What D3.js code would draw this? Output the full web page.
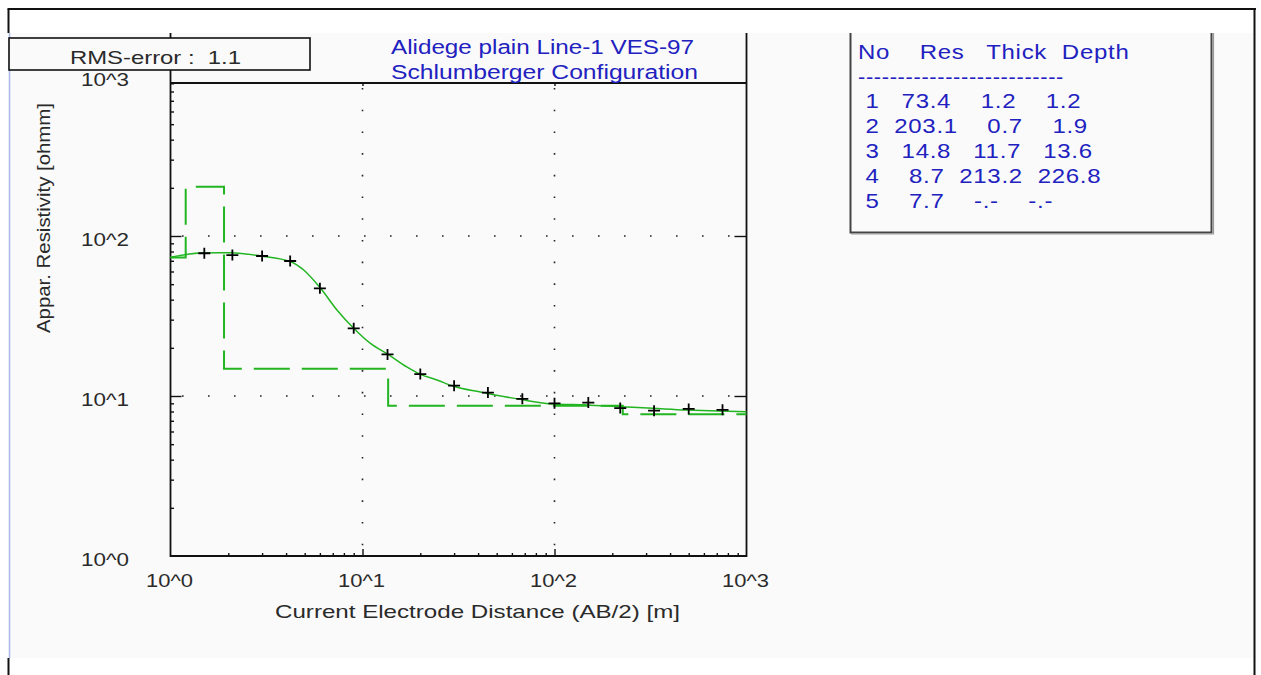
<!DOCTYPE html>
<html>
<head>
<meta charset="utf-8">
<script src="https://cdn.jsdelivr.net/npm/d3@7"></script>
<style>
  html, body { margin: 0; padding: 0; background: #ffffff; }
  svg { display: block; font-family: "Liberation Sans", Arial, sans-serif; }
  text.pre { white-space: pre; }
</style>
</head>
<body>
<svg id="chart" width="1261" height="675"></svg>
<script>
// ---- Field sounding: half electrode spacing AB/2 [m] and apparent resistivity [ohm-m]
const spacing     = [1.5, 2.1, 3, 4.2, 6, 9, 13.5, 20, 30, 45, 68, 100, 150, 220, 330, 500, 750];
const apparentRes = [78.0, 76.0, 75.0, 69.8, 47.1, 26.5, 18.2, 13.7, 11.6, 10.5, 9.6, 9.0, 9.1, 8.4, 8.1, 8.3, 8.2];

// ---- Calculated response of the fitted layer model
const modelSpacing = [1.0, 1.44, 2.06, 2.95, 4.23, 4.94, 6.05, 7.36, 9.0, 11.0, 13.6, 17.0, 19.9, 24.4, 29.7, 41.1, 66.2, 98.2, 147, 218, 325, 486, 721, 1000];
const modelRes     = [73.6, 78.3, 78.6, 75.0, 69.1, 61.3, 47.1, 34.5, 26.5, 21.3, 18.2, 15.2, 13.7, 12.6, 11.5, 10.6, 9.53, 8.91, 8.79, 8.58, 8.38, 8.18, 8.06, 7.98];

// ---- Layer model
const layerNo    = [1, 2, 3, 4, 5];
const layerRes   = [73.4, 203.1, 14.8, 8.7, 7.7];
const layerThick = [1.2, 0.7, 11.7, 213.2, null];
const layerDepth = [1.2, 1.9, 13.6, 226.8, null];

// ---- Axes
const xTicks = [1, 10, 100, 1000];
const xTickLabels = ["10^0", "10^1", "10^2", "10^3"];
const yTicks = [1, 10, 100, 1000];
const yTickLabels = ["10^0", "10^1", "10^2", "10^3"];
const gridValues = [10, 100];

const titleLines = ["Alidege plain Line-1 VES-97", "Schlumberger Configuration"];
const rmsError = 1.1;
const xTitle = "Current Electrode Distance (AB/2) [m]";
const yTitle = "Appar. Resistivity [ohmm]";
const tableHeader = "No    Res   Thick  Depth";

// ---------------------------------------------------------------
const svg = d3.select("#chart");
const INK = "#111", TXT = "#2a2a2a", BLUE = "#2121c0", GREEN = "#22b522";

const plot = { left: 170.5, right: 746.5, bottom: 556, panelTop: 33 };
const x = d3.scaleLog().domain([1, 1000]).range([plot.left, plot.right]);
const y = d3.scaleLog().domain([1, 1000]).range([plot.bottom, 76]);
const frameTop = y(1000) + 7;

// window panel and outer frame
svg.append("rect").attr("x", 9).attr("y", 33).attr("width", 1244).attr("height", 625).attr("fill", "#fafafa");
svg.append("line").attr("x1", 9.5).attr("x2", 9.5).attr("y1", 33).attr("y2", 658).attr("stroke", "#a9b6e6").attr("stroke-width", 1.5);
const frame = svg.append("g").attr("stroke", INK).attr("fill", "none");
frame.append("line").attr("x1", 7.5).attr("x2", 1256).attr("y1", 9).attr("y2", 9).attr("stroke-width", 2);
frame.append("line").attr("x1", 8.5).attr("x2", 8.5).attr("y1", 9).attr("y2", 33).attr("stroke-width", 2);
frame.append("line").attr("x1", 8.5).attr("x2", 8.5).attr("y1", 658).attr("y2", 675).attr("stroke-width", 2);
frame.append("line").attr("x1", 1254.5).attr("x2", 1254.5).attr("y1", 9).attr("y2", 675).attr("stroke-width", 2);

// dotted grid at the inner decades
const grid = svg.append("g").attr("stroke", "#222").attr("stroke-width", 1.6);
grid.selectAll("line.h").data(gridValues).join("line").attr("class", "h")
  .attr("x1", 182).attr("x2", 736).attr("y1", d => y(d)).attr("y2", d => y(d))
  .attr("stroke-dasharray", "1.6 24.4");
grid.selectAll("line.v").data(gridValues).join("line").attr("class", "v")
  .attr("x1", d => x(d)).attr("x2", d => x(d)).attr("y1", 88).attr("y2", 548)
  .attr("stroke-dasharray", "1.6 20.1");

// minor tick values for each decade
const minor = [];
[1, 10, 100].forEach(dec => { for (let k = 2; k <= 9; k++) minor.push(k * dec); });

function styleAxis(g) {
  g.select(".domain").remove();
  g.selectAll(".tick line").attr("stroke", INK).attr("stroke-width", 1.4);
  g.selectAll(".tick text").remove();
}
svg.append("g").attr("transform", `translate(${plot.left},0)`)
  .call(d3.axisRight(y).tickValues(minor).tickSize(3.5)).call(styleAxis);
svg.append("g").attr("transform", `translate(${plot.left},0)`)
  .call(d3.axisRight(y).tickValues(gridValues).tickSize(11)).call(styleAxis);
svg.append("g").attr("transform", `translate(${plot.right},0)`)
  .call(d3.axisLeft(y).tickValues(gridValues).tickSize(12)).call(styleAxis);
svg.append("g").attr("transform", `translate(0,${plot.bottom})`)
  .call(d3.axisTop(x).tickValues(minor).tickSize(3)).call(styleAxis);
svg.append("g").attr("transform", `translate(0,${plot.bottom})`)
  .call(d3.axisTop(x).tickValues(gridValues).tickSize(7)).call(styleAxis);
svg.append("g").attr("transform", `translate(0,${frameTop})`)
  .call(d3.axisBottom(x).tickValues(gridValues).tickSize(3)).call(styleAxis);

// plot frame
const box = svg.append("g").attr("stroke", INK).attr("stroke-width", 1.8);
box.append("line").attr("x1", plot.left).attr("x2", plot.left).attr("y1", plot.panelTop).attr("y2", plot.bottom + 0.9);
box.append("line").attr("x1", plot.right).attr("x2", plot.right).attr("y1", plot.panelTop).attr("y2", plot.bottom + 0.9);
box.append("line").attr("x1", plot.left).attr("x2", plot.right).attr("y1", frameTop).attr("y2", frameTop);
box.append("line").attr("x1", plot.left).attr("x2", plot.right).attr("y1", plot.bottom).attr("y2", plot.bottom);

// layered model as a dashed step line
const steps = [[1, layerRes[0]]];
layerRes.forEach((r, i) => {
  const dEnd = layerDepth[i] == null ? 1000 : layerDepth[i];
  steps.push([dEnd, r]);
  if (layerDepth[i] != null) steps.push([dEnd, layerRes[i + 1]]);
});
svg.append("path").datum(steps)
  .attr("d", d3.line().x(d => x(d[0])).y(d => y(d[1])))
  .attr("fill", "none").attr("stroke", GREEN).attr("stroke-width", 2)
  .attr("stroke-dasharray", "36 12");

// calculated curve
svg.append("path").datum(modelSpacing.map((s, i) => [s, modelRes[i]]))
  .attr("d", d3.line().x(d => x(d[0])).y(d => y(d[1])).curve(d3.curveMonotoneX))
  .attr("fill", "none").attr("stroke", GREEN).attr("stroke-width", 1.5);

// field data crosses
svg.append("g").selectAll("path").data(spacing.map((s, i) => [s, apparentRes[i]])).join("path")
  .attr("d", d => {
    const px = x(d[0]), py = y(d[1]);
    return `M${px - 6},${py}H${px + 6}M${px},${py - 5.5}V${py + 5.5}`;
  })
  .attr("stroke", "#000").attr("stroke-width", 1.8).attr("fill", "none");

// tick labels
svg.append("g").selectAll("text").data(xTicks).join("text")
  .attr("x", d => x(d) - 1).attr("y", 587)
  .attr("text-anchor", "middle").attr("font-size", 18.5).attr("fill", TXT)
  .attr("textLength", 47).attr("lengthAdjust", "spacingAndGlyphs")
  .text((d, i) => xTickLabels[i]);
svg.append("g").selectAll("text").data(yTicks).join("text")
  .attr("x", 129).attr("y", d => y(d) + 10)
  .attr("text-anchor", "end").attr("font-size", 18.5).attr("fill", TXT)
  .attr("textLength", 48).attr("lengthAdjust", "spacingAndGlyphs")
  .text((d, i) => yTickLabels[i]);

// axis titles
svg.append("text").attr("x", 477.5).attr("y", 618).attr("text-anchor", "middle")
  .attr("font-size", 18.5).attr("fill", TXT)
  .attr("textLength", 405).attr("lengthAdjust", "spacingAndGlyphs").text(xTitle);
svg.append("text").attr("transform", "translate(50,218) rotate(-90)").attr("text-anchor", "middle")
  .attr("font-size", 18).attr("fill", TXT)
  .attr("textLength", 230).attr("lengthAdjust", "spacingAndGlyphs").text(yTitle);

// RMS error box
svg.append("rect").attr("x", 9).attr("y", 38).attr("width", 301).attr("height", 32)
  .attr("fill", "#fafafa").attr("stroke", INK).attr("stroke-width", 1.6);
svg.append("text").attr("class", "pre").attr("xml:space", "preserve")
  .attr("x", 70).attr("y", 64).attr("font-size", 19).attr("fill", TXT)
  .attr("textLength", 171).attr("lengthAdjust", "spacingAndGlyphs")
  .text(`RMS-error :  ${rmsError.toFixed(1)}`);

// sounding title
svg.append("g").selectAll("text").data(titleLines).join("text")
  .attr("x", 391).attr("y", (d, i) => 54 + i * 25)
  .attr("font-size", 19.5).attr("fill", BLUE)
  .attr("textLength", (d, i) => i === 0 ? 303 : 307).attr("lengthAdjust", "spacingAndGlyphs")
  .text(d => d);

// layer table
const tbl = svg.append("g");
tbl.append("path").attr("d", "M850.5,33V232.5H1211.5V33")
  .attr("fill", "none").attr("stroke", "#444").attr("stroke-width", 2);
tbl.append("path").attr("d", "M851,234H1213.5V33")
  .attr("fill", "none").attr("stroke", "#9a9a9a").attr("stroke-width", 1.2);

const fmt = v => v == null ? "-.-" : v.toFixed(1);
const pad = (s, n) => String(s).padStart(n, " ");
const rows = layerNo.map((n, i) =>
  pad(n, 2) + pad(fmt(layerRes[i]), 7) + pad(fmt(layerThick[i]), 7) + pad(fmt(layerDepth[i]), 7));

const tg = tbl.append("g").attr("transform", "translate(858,0) scale(1.2,1)")
  .attr("font-size", 20).attr("fill", BLUE).attr("letter-spacing", 0.6);
tg.append("text").attr("class", "pre").attr("xml:space", "preserve")
  .attr("x", 0).attr("y", 59).text(tableHeader);
tg.append("text").attr("x", 0).attr("y", 84)
  .attr("textLength", 206 / 1.2).attr("lengthAdjust", "spacingAndGlyphs")
  .text("-".repeat(26));
tg.selectAll("text.row").data(rows).join("text").attr("class", "row pre")
  .attr("xml:space", "preserve")
  .attr("x", 0).attr("y", (d, i) => 108.5 + i * 24.8)
  .text(d => d);
</script>
</body>
</html>
